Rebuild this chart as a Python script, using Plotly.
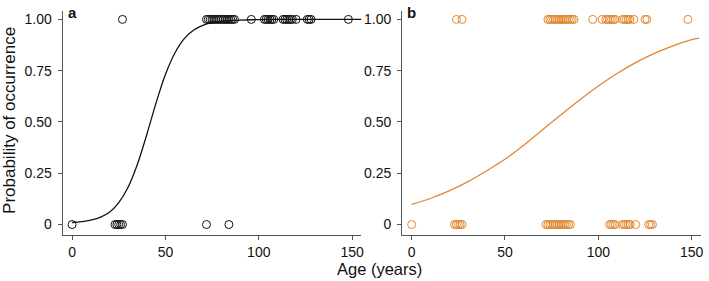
import plotly.graph_objects as go

# ---- data ----
a_present_age = [27, 72, 73, 74, 75, 76, 77, 78, 79, 80, 81, 82, 83, 84, 85, 86, 87,
                 96, 103, 104, 105, 106, 107, 108, 113, 114, 115, 116, 117, 118, 120,
                 126, 127, 128, 148]
a_absent_age = [0, 23, 24, 25, 26, 27, 72, 84]

b_present_age = [24, 27, 73, 74, 75, 76, 77, 78, 79, 80, 81, 82, 83, 84, 85, 86, 87,
                 97, 102, 104, 105, 106, 107, 108, 109, 113, 114, 115, 116, 117, 119,
                 125, 126, 148]
b_absent_age = [0, 23, 24, 25, 26, 27, 72, 73, 74, 75, 76, 77, 78, 79, 80, 81, 82, 83,
                84, 85, 106, 107, 108, 109, 113, 114, 115, 116, 117, 120, 127, 128, 129]

a_curve_age = [0, 5, 10, 15, 20, 25, 30, 35, 40, 45, 50, 55, 60, 65, 70, 75, 80, 85,
               90, 100, 110, 120, 135, 155]
a_curve_prob = [0.010, 0.014, 0.021, 0.035, 0.060, 0.107, 0.182, 0.294, 0.438, 0.593,
                0.731, 0.835, 0.905, 0.947, 0.971, 0.984, 0.991, 0.995, 0.997, 0.999,
                1.0, 1.0, 1.0, 1.0]

b_curve_age = [0, 10, 20, 30, 40, 50, 60, 70, 80, 90, 100, 110, 120, 130, 140, 150, 154]
b_curve_prob = [0.098, 0.127, 0.164, 0.208, 0.261, 0.318, 0.386, 0.461, 0.535, 0.607,
                0.675, 0.736, 0.789, 0.834, 0.871, 0.901, 0.909]

y_tick_vals = [0, 0.25, 0.5, 0.75, 1.0]
y_tick_text = ["0", "0.25", "0.50", "0.75", "1.00"]
x_tick_vals = [0, 50, 100, 150]
x_tick_text = ["0", "50", "100", "150"]

BLACK = "#111111"
ORANGE = "#E0872F"
AXIS = "#555555"
FONT = "Liberation Sans, Arial, sans-serif"

fig = go.Figure()

def add_panel(xa, ya, pres, absn, cx, cy, col):
    fig.add_trace(go.Scatter(x=pres, y=[1] * len(pres), mode="markers", xaxis=xa, yaxis=ya,
                             marker=dict(symbol="circle-open", size=8, color=col,
                                         line=dict(width=1, color=col)),
                             showlegend=False, hoverinfo="skip"))
    fig.add_trace(go.Scatter(x=absn, y=[0] * len(absn), mode="markers", xaxis=xa, yaxis=ya,
                             marker=dict(symbol="circle-open", size=8, color=col,
                                         line=dict(width=1, color=col)),
                             showlegend=False, hoverinfo="skip"))
    fig.add_trace(go.Scatter(x=cx, y=cy, mode="lines", xaxis=xa, yaxis=ya,
                             line=dict(color=col, width=1.3, shape="spline", smoothing=1.0),
                             showlegend=False, hoverinfo="skip"))

add_panel("x", "y", a_present_age, a_absent_age, a_curve_age, a_curve_prob, BLACK)
add_panel("x2", "y2", b_present_age, b_absent_age, b_curve_age, b_curve_prob, ORANGE)

W, H = 709, 281
ydom = [(H - 235) / H, (H - 11) / H]

xcommon = dict(range=[-5, 155], tickvals=x_tick_vals, ticktext=x_tick_text,
               showgrid=False, zeroline=False, showline=True, linecolor=AXIS, linewidth=1.3,
               ticks="outside", ticklen=4, tickcolor=AXIS, tickwidth=1.1,
               tickfont=dict(family=FONT, size=14, color="#111111"))
ycommon = dict(range=[-0.051, 1.041], tickvals=y_tick_vals, ticktext=y_tick_text,
               showgrid=False, zeroline=False, showline=True, linecolor=AXIS, linewidth=1.3,
               ticks="outside", ticklen=4, tickcolor=AXIS, tickwidth=1.1,
               tickfont=dict(family=FONT, size=14, color="#111111"), domain=ydom,
               ticklabelstandoff=3)

fig.update_layout(
    width=W, height=H, margin=dict(l=0, r=0, t=0, b=0),
    paper_bgcolor="white", plot_bgcolor="white",
    xaxis=dict(domain=[63 / W, 363 / W], anchor="y", **xcommon),
    yaxis=dict(anchor="x", **ycommon),
    xaxis2=dict(domain=[404 / W, 704 / W], anchor="y2", **xcommon),
    yaxis2=dict(anchor="x2", **ycommon),
    annotations=[
        dict(text="<b>a</b>", x=66 / W, y=(H - 2) / H, xref="paper", yref="paper",
             xanchor="left", yanchor="top", showarrow=False,
             font=dict(family=FONT, size=15, color="#111111")),
        dict(text="<b>b</b>", x=407 / W, y=(H - 2) / H, xref="paper", yref="paper",
             xanchor="left", yanchor="top", showarrow=False,
             font=dict(family=FONT, size=15, color="#111111")),
        dict(text="Probability of occurrence", x=10 / W, y=(H - 120) / H, xref="paper",
             yref="paper", xanchor="center", yanchor="middle", textangle=-90,
             showarrow=False, font=dict(family=FONT, size=17, color="#111111")),
        dict(text="Age (years)", x=381 / W, y=1 / H, xref="paper", yref="paper",
             xanchor="center", yanchor="bottom", showarrow=False,
             font=dict(family=FONT, size=16.5, color="#111111")),
    ],
)

fig.write_html("out.html")
